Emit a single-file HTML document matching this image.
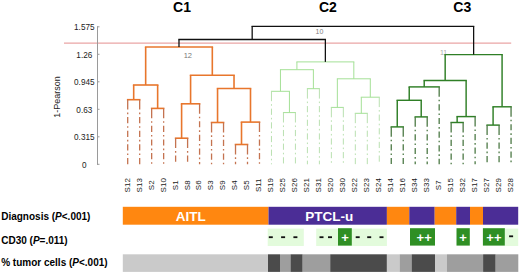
<!DOCTYPE html>
<html><head><meta charset="utf-8"><style>
html,body{margin:0;padding:0;background:#fff;}
body{width:520px;height:273px;overflow:hidden;}
svg{display:block;font-family:"Liberation Sans",sans-serif;}
</style></head><body>
<svg width="520" height="273" viewBox="0 0 520 273">
<g font-size="14" font-weight="bold" fill="#000" text-anchor="middle">
<text x="182" y="12.2">C1</text><text x="327.9" y="12.2">C2</text><text x="462.3" y="12.2">C3</text>
</g>
<line x1="64" y1="43.1" x2="511.2" y2="43.1" stroke="#eaa5a5" stroke-width="1.2"/>
<g fill="#222"><line x1="97.5" y1="26.3" x2="97.5" y2="164.8" stroke="#9a9a9a" stroke-width="1"/>
<line x1="97" y1="26.8" x2="99.5" y2="26.8" stroke="#9a9a9a" stroke-width="1"/>
<text x="84.3" y="30.1" text-anchor="middle" font-size="8.2">1.575</text>
<line x1="97" y1="54.3" x2="99.5" y2="54.3" stroke="#9a9a9a" stroke-width="1"/>
<text x="84.3" y="57.6" text-anchor="middle" font-size="8.2">1.26</text>
<line x1="97" y1="81.8" x2="99.5" y2="81.8" stroke="#9a9a9a" stroke-width="1"/>
<text x="84.3" y="85.1" text-anchor="middle" font-size="8.2">0.945</text>
<line x1="97" y1="109.3" x2="99.5" y2="109.3" stroke="#9a9a9a" stroke-width="1"/>
<text x="84.3" y="112.6" text-anchor="middle" font-size="8.2">0.63</text>
<line x1="97" y1="136.8" x2="99.5" y2="136.8" stroke="#9a9a9a" stroke-width="1"/>
<text x="84.3" y="140.1" text-anchor="middle" font-size="8.2">0.315</text>
<line x1="97" y1="164.3" x2="99.5" y2="164.3" stroke="#9a9a9a" stroke-width="1"/>
<text x="84.3" y="167.6" text-anchor="middle" font-size="8.2">0</text></g>
<text transform="translate(60.2,97) rotate(-90)" text-anchor="middle" font-size="9" fill="#222">1-Pearson</text>
<text x="443.6" y="54.6" font-size="7" fill="#aaa" text-anchor="middle">11</text>
<line x1="145.67" y1="47.0" x2="212.31" y2="47.0" stroke="#e8762c" stroke-width="1.6" stroke-linecap="square"/>
<line x1="145.67" y1="47.0" x2="145.67" y2="85.0" stroke="#e8762c" stroke-width="1.6"/>
<line x1="133.69" y1="85.0" x2="157.65" y2="85.0" stroke="#e8762c" stroke-width="1.6" stroke-linecap="square"/>
<line x1="133.69" y1="85.0" x2="133.69" y2="99.7" stroke="#e8762c" stroke-width="1.6"/>
<line x1="127.70" y1="99.7" x2="139.68" y2="99.7" stroke="#e8762c" stroke-width="1.6" stroke-linecap="square"/>
<path d="M127.70 99.70V109.60M127.70 112.55V114.15M127.70 117.05V123.25M127.70 126.20V127.80M127.70 130.70V136.90M127.70 139.85V141.45M127.70 144.35V150.55M127.70 153.50V155.10M127.70 158.00V164.20" stroke="#c47350" stroke-width="1.3" fill="none"/>
<path d="M139.68 99.70V109.60M139.68 112.55V114.15M139.68 117.05V123.25M139.68 126.20V127.80M139.68 130.70V136.90M139.68 139.85V141.45M139.68 144.35V150.55M139.68 153.50V155.10M139.68 158.00V164.20" stroke="#c47350" stroke-width="1.3" fill="none"/>
<line x1="157.65" y1="85.0" x2="157.65" y2="108.4" stroke="#e8762c" stroke-width="1.6"/>
<line x1="151.66" y1="108.4" x2="163.64" y2="108.4" stroke="#e8762c" stroke-width="1.6" stroke-linecap="square"/>
<path d="M151.66 108.40V118.30M151.66 121.25V122.85M151.66 125.75V131.95M151.66 134.90V136.50M151.66 139.40V145.60M151.66 148.55V150.15M151.66 153.05V159.25M151.66 162.20V163.80" stroke="#c47350" stroke-width="1.3" fill="none"/>
<path d="M163.64 108.40V118.30M163.64 121.25V122.85M163.64 125.75V131.95M163.64 134.90V136.50M163.64 139.40V145.60M163.64 148.55V150.15M163.64 153.05V159.25M163.64 162.20V163.80" stroke="#c47350" stroke-width="1.3" fill="none"/>
<line x1="212.31" y1="47.0" x2="212.31" y2="75.2" stroke="#e8762c" stroke-width="1.6"/>
<line x1="190.59" y1="75.2" x2="234.02" y2="75.2" stroke="#e8762c" stroke-width="1.6" stroke-linecap="square"/>
<line x1="190.59" y1="75.2" x2="190.59" y2="103.8" stroke="#e8762c" stroke-width="1.6"/>
<line x1="181.61" y1="103.8" x2="199.58" y2="103.8" stroke="#e8762c" stroke-width="1.6" stroke-linecap="square"/>
<line x1="181.61" y1="103.8" x2="181.61" y2="138.2" stroke="#e8762c" stroke-width="1.6"/>
<line x1="175.62" y1="138.2" x2="187.60" y2="138.2" stroke="#e8762c" stroke-width="1.6" stroke-linecap="square"/>
<path d="M175.62 138.20V148.10M175.62 151.05V152.65M175.62 155.55V161.75" stroke="#c47350" stroke-width="1.3" fill="none"/>
<path d="M187.60 138.20V148.10M187.60 151.05V152.65M187.60 155.55V161.75" stroke="#c47350" stroke-width="1.3" fill="none"/>
<path d="M199.58 103.80V113.70M199.58 116.65V118.25M199.58 121.15V127.35M199.58 130.30V131.90M199.58 134.80V141.00M199.58 143.95V145.55M199.58 148.45V154.65M199.58 157.60V159.20M199.58 162.10V164.30" stroke="#c47350" stroke-width="1.3" fill="none"/>
<line x1="234.02" y1="75.2" x2="234.02" y2="88.5" stroke="#e8762c" stroke-width="1.6"/>
<line x1="217.55" y1="88.5" x2="250.50" y2="88.5" stroke="#e8762c" stroke-width="1.6" stroke-linecap="square"/>
<line x1="217.55" y1="88.5" x2="217.55" y2="122.5" stroke="#e8762c" stroke-width="1.6"/>
<line x1="211.56" y1="122.5" x2="223.54" y2="122.5" stroke="#e8762c" stroke-width="1.6" stroke-linecap="square"/>
<path d="M211.56 122.50V132.40M211.56 135.35V136.95M211.56 139.85V146.05M211.56 149.00V150.60M211.56 153.50V159.70M211.56 162.65V164.25" stroke="#c47350" stroke-width="1.3" fill="none"/>
<path d="M223.54 122.50V132.40M223.54 135.35V136.95M223.54 139.85V146.05M223.54 149.00V150.60M223.54 153.50V159.70M223.54 162.65V164.25" stroke="#c47350" stroke-width="1.3" fill="none"/>
<line x1="250.50" y1="88.5" x2="250.50" y2="122.1" stroke="#e8762c" stroke-width="1.6"/>
<line x1="241.51" y1="122.1" x2="259.48" y2="122.1" stroke="#e8762c" stroke-width="1.6" stroke-linecap="square"/>
<line x1="241.51" y1="122.1" x2="241.51" y2="144.5" stroke="#e8762c" stroke-width="1.6"/>
<line x1="235.52" y1="144.5" x2="247.50" y2="144.5" stroke="#e8762c" stroke-width="1.6" stroke-linecap="square"/>
<path d="M235.52 144.50V154.40M235.52 157.35V158.95M235.52 161.85V164.30" stroke="#c47350" stroke-width="1.3" fill="none"/>
<path d="M247.50 144.50V154.40M247.50 157.35V158.95M247.50 161.85V164.30" stroke="#c47350" stroke-width="1.3" fill="none"/>
<path d="M259.48 122.10V132.00M259.48 134.95V136.55M259.48 139.45V145.65M259.48 148.60V150.20M259.48 153.10V159.30M259.48 162.25V163.85" stroke="#c47350" stroke-width="1.3" fill="none"/>
<line x1="296.92" y1="61.9" x2="353.82" y2="61.9" stroke="#a4e096" stroke-width="1.0" stroke-linecap="square"/>
<line x1="296.92" y1="61.9" x2="296.92" y2="69.7" stroke="#a4e096" stroke-width="1.0"/>
<line x1="280.44" y1="69.7" x2="313.39" y2="69.7" stroke="#a4e096" stroke-width="1.0" stroke-linecap="square"/>
<line x1="280.44" y1="69.7" x2="280.44" y2="91.3" stroke="#a4e096" stroke-width="1.0"/>
<line x1="271.46" y1="91.3" x2="289.43" y2="91.3" stroke="#a4e096" stroke-width="1.0" stroke-linecap="square"/>
<path d="M271.46 91.30V101.20M271.46 104.15V105.75M271.46 108.65V114.85M271.46 117.80V119.40M271.46 122.30V128.50M271.46 131.45V133.05M271.46 135.95V142.15M271.46 145.10V146.70M271.46 149.60V155.80M271.46 158.75V160.35M271.46 163.25V164.30" stroke="#b9e0b0" stroke-width="1.0" fill="none"/>
<line x1="289.43" y1="91.3" x2="289.43" y2="112.6" stroke="#a4e096" stroke-width="1.0"/>
<line x1="283.44" y1="112.6" x2="295.42" y2="112.6" stroke="#a4e096" stroke-width="1.0" stroke-linecap="square"/>
<path d="M283.44 112.60V122.50M283.44 125.45V127.05M283.44 129.95V136.15M283.44 139.10V140.70M283.44 143.60V149.80M283.44 152.75V154.35M283.44 157.25V163.45" stroke="#b9e0b0" stroke-width="1.0" fill="none"/>
<path d="M295.42 112.60V122.50M295.42 125.45V127.05M295.42 129.95V136.15M295.42 139.10V140.70M295.42 143.60V149.80M295.42 152.75V154.35M295.42 157.25V163.45" stroke="#b9e0b0" stroke-width="1.0" fill="none"/>
<line x1="313.39" y1="69.7" x2="313.39" y2="88.7" stroke="#a4e096" stroke-width="1.0"/>
<line x1="307.40" y1="88.7" x2="319.38" y2="88.7" stroke="#a4e096" stroke-width="1.0" stroke-linecap="square"/>
<path d="M307.40 88.70V98.60M307.40 101.55V103.15M307.40 106.05V112.25M307.40 115.20V116.80M307.40 119.70V125.90M307.40 128.85V130.45M307.40 133.35V139.55M307.40 142.50V144.10M307.40 147.00V153.20M307.40 156.15V157.75M307.40 160.65V164.30" stroke="#b9e0b0" stroke-width="1.0" fill="none"/>
<path d="M319.38 88.70V98.60M319.38 101.55V103.15M319.38 106.05V112.25M319.38 115.20V116.80M319.38 119.70V125.90M319.38 128.85V130.45M319.38 133.35V139.55M319.38 142.50V144.10M319.38 147.00V153.20M319.38 156.15V157.75M319.38 160.65V164.30" stroke="#b9e0b0" stroke-width="1.0" fill="none"/>
<line x1="353.82" y1="61.9" x2="353.82" y2="78.8" stroke="#a4e096" stroke-width="1.0"/>
<line x1="337.35" y1="78.8" x2="370.30" y2="78.8" stroke="#a4e096" stroke-width="1.0" stroke-linecap="square"/>
<line x1="337.35" y1="78.8" x2="337.35" y2="107.4" stroke="#a4e096" stroke-width="1.0"/>
<line x1="331.36" y1="107.4" x2="343.34" y2="107.4" stroke="#a4e096" stroke-width="1.0" stroke-linecap="square"/>
<path d="M331.36 107.40V117.30M331.36 120.25V121.85M331.36 124.75V130.95M331.36 133.90V135.50M331.36 138.40V144.60M331.36 147.55V149.15M331.36 152.05V158.25M331.36 161.20V162.80" stroke="#b9e0b0" stroke-width="1.0" fill="none"/>
<path d="M343.34 107.40V117.30M343.34 120.25V121.85M343.34 124.75V130.95M343.34 133.90V135.50M343.34 138.40V144.60M343.34 147.55V149.15M343.34 152.05V158.25M343.34 161.20V162.80" stroke="#b9e0b0" stroke-width="1.0" fill="none"/>
<line x1="370.30" y1="78.8" x2="370.30" y2="97.2" stroke="#a4e096" stroke-width="1.0"/>
<line x1="361.31" y1="97.2" x2="379.28" y2="97.2" stroke="#a4e096" stroke-width="1.0" stroke-linecap="square"/>
<line x1="361.31" y1="97.2" x2="361.31" y2="113.3" stroke="#a4e096" stroke-width="1.0"/>
<line x1="355.32" y1="113.3" x2="367.30" y2="113.3" stroke="#a4e096" stroke-width="1.0" stroke-linecap="square"/>
<path d="M355.32 113.30V123.20M355.32 126.15V127.75M355.32 130.65V136.85M355.32 139.80V141.40M355.32 144.30V150.50M355.32 153.45V155.05M355.32 157.95V164.15" stroke="#b9e0b0" stroke-width="1.0" fill="none"/>
<path d="M367.30 113.30V123.20M367.30 126.15V127.75M367.30 130.65V136.85M367.30 139.80V141.40M367.30 144.30V150.50M367.30 153.45V155.05M367.30 157.95V164.15" stroke="#b9e0b0" stroke-width="1.0" fill="none"/>
<path d="M379.28 97.20V107.10M379.28 110.05V111.65M379.28 114.55V120.75M379.28 123.70V125.30M379.28 128.20V134.40M379.28 137.35V138.95M379.28 141.85V148.05M379.28 151.00V152.60M379.28 155.50V161.70" stroke="#b9e0b0" stroke-width="1.0" fill="none"/>
<line x1="445.17" y1="54.6" x2="502.08" y2="54.6" stroke="#2f7f26" stroke-width="1.45" stroke-linecap="square"/>
<line x1="445.17" y1="54.6" x2="445.17" y2="80.5" stroke="#2f7f26" stroke-width="1.45"/>
<line x1="424.21" y1="80.5" x2="466.13" y2="80.5" stroke="#2f7f26" stroke-width="1.45" stroke-linecap="square"/>
<line x1="424.21" y1="80.5" x2="424.21" y2="86.9" stroke="#2f7f26" stroke-width="1.45"/>
<line x1="409.23" y1="86.9" x2="439.18" y2="86.9" stroke="#2f7f26" stroke-width="1.45" stroke-linecap="square"/>
<line x1="409.23" y1="86.9" x2="409.23" y2="100.3" stroke="#2f7f26" stroke-width="1.45"/>
<line x1="397.25" y1="100.3" x2="421.21" y2="100.3" stroke="#2f7f26" stroke-width="1.45" stroke-linecap="square"/>
<line x1="397.25" y1="100.3" x2="397.25" y2="126.9" stroke="#2f7f26" stroke-width="1.45"/>
<line x1="391.26" y1="126.9" x2="403.24" y2="126.9" stroke="#2f7f26" stroke-width="1.45" stroke-linecap="square"/>
<path d="M391.26 126.90V136.80M391.26 139.75V141.35M391.26 144.25V150.45M391.26 153.40V155.00M391.26 157.90V164.10" stroke="#4d7a46" stroke-width="1.3" fill="none"/>
<path d="M403.24 126.90V136.80M403.24 139.75V141.35M403.24 144.25V150.45M403.24 153.40V155.00M403.24 157.90V164.10" stroke="#4d7a46" stroke-width="1.3" fill="none"/>
<line x1="421.21" y1="100.3" x2="421.21" y2="116.9" stroke="#2f7f26" stroke-width="1.45"/>
<line x1="415.22" y1="116.9" x2="427.20" y2="116.9" stroke="#2f7f26" stroke-width="1.45" stroke-linecap="square"/>
<path d="M415.22 116.90V126.80M415.22 129.75V131.35M415.22 134.25V140.45M415.22 143.40V145.00M415.22 147.90V154.10M415.22 157.05V158.65M415.22 161.55V164.30" stroke="#4d7a46" stroke-width="1.3" fill="none"/>
<path d="M427.20 116.90V126.80M427.20 129.75V131.35M427.20 134.25V140.45M427.20 143.40V145.00M427.20 147.90V154.10M427.20 157.05V158.65M427.20 161.55V164.30" stroke="#4d7a46" stroke-width="1.3" fill="none"/>
<path d="M439.18 86.90V96.80M439.18 99.75V101.35M439.18 104.25V110.45M439.18 113.40V115.00M439.18 117.90V124.10M439.18 127.05V128.65M439.18 131.55V137.75M439.18 140.70V142.30M439.18 145.20V151.40M439.18 154.35V155.95M439.18 158.85V164.30" stroke="#4d7a46" stroke-width="1.3" fill="none"/>
<line x1="466.13" y1="80.5" x2="466.13" y2="116.6" stroke="#2f7f26" stroke-width="1.45"/>
<line x1="457.15" y1="116.6" x2="475.12" y2="116.6" stroke="#2f7f26" stroke-width="1.45" stroke-linecap="square"/>
<line x1="457.15" y1="116.6" x2="457.15" y2="122.5" stroke="#2f7f26" stroke-width="1.45"/>
<line x1="451.16" y1="122.5" x2="463.14" y2="122.5" stroke="#2f7f26" stroke-width="1.45" stroke-linecap="square"/>
<path d="M451.16 122.50V132.40M451.16 135.35V136.95M451.16 139.85V146.05M451.16 149.00V150.60M451.16 153.50V159.70M451.16 162.65V164.25" stroke="#4d7a46" stroke-width="1.3" fill="none"/>
<path d="M463.14 122.50V132.40M463.14 135.35V136.95M463.14 139.85V146.05M463.14 149.00V150.60M463.14 153.50V159.70M463.14 162.65V164.25" stroke="#4d7a46" stroke-width="1.3" fill="none"/>
<path d="M475.12 116.60V126.50M475.12 129.45V131.05M475.12 133.95V140.15M475.12 143.10V144.70M475.12 147.60V153.80M475.12 156.75V158.35M475.12 161.25V164.30" stroke="#4d7a46" stroke-width="1.3" fill="none"/>
<line x1="502.08" y1="54.6" x2="502.08" y2="106.8" stroke="#2f7f26" stroke-width="1.45"/>
<line x1="493.09" y1="106.8" x2="511.06" y2="106.8" stroke="#2f7f26" stroke-width="1.45" stroke-linecap="square"/>
<line x1="493.09" y1="106.8" x2="493.09" y2="125.1" stroke="#2f7f26" stroke-width="1.45"/>
<line x1="487.10" y1="125.1" x2="499.08" y2="125.1" stroke="#2f7f26" stroke-width="1.45" stroke-linecap="square"/>
<path d="M487.10 125.10V135.00M487.10 137.95V139.55M487.10 142.45V148.65M487.10 151.60V153.20M487.10 156.10V162.30" stroke="#4d7a46" stroke-width="1.3" fill="none"/>
<path d="M499.08 125.10V135.00M499.08 137.95V139.55M499.08 142.45V148.65M499.08 151.60V153.20M499.08 156.10V162.30" stroke="#4d7a46" stroke-width="1.3" fill="none"/>
<path d="M511.06 106.80V116.70M511.06 119.65V121.25M511.06 124.15V130.35M511.06 133.30V134.90M511.06 137.80V144.00M511.06 146.95V148.55M511.06 151.45V157.65M511.06 160.60V162.20" stroke="#4d7a46" stroke-width="1.3" fill="none"/>
<line x1="178.99" y1="39.5" x2="325.37" y2="39.5" stroke="#111" stroke-width="1.3" stroke-linecap="square"/>
<line x1="178.99" y1="39.5" x2="178.99" y2="47" stroke="#111" stroke-width="1.3"/>
<line x1="325.37" y1="39.5" x2="325.37" y2="61.9" stroke="#111" stroke-width="1.3"/>
<line x1="252.18" y1="26.3" x2="473.62" y2="26.3" stroke="#111" stroke-width="1.3" stroke-linecap="square"/>
<line x1="252.18" y1="26.3" x2="252.18" y2="39.5" stroke="#111" stroke-width="1.3"/>
<line x1="473.62" y1="26.3" x2="473.62" y2="54.6" stroke="#111" stroke-width="1.3"/>
<text x="187.8" y="58.4" font-size="7.5" fill="#777" text-anchor="middle">12</text>
<text x="319.4" y="34.3" font-size="7" fill="#808080" text-anchor="middle">10</text>
<g font-size="8" fill="#222"><text x="0" y="0" transform="translate(129.60,185.3) rotate(-90)" text-anchor="middle">S12</text>
<text x="0" y="0" transform="translate(141.58,185.3) rotate(-90)" text-anchor="middle">S13</text>
<text x="0" y="0" transform="translate(153.56,185.3) rotate(-90)" text-anchor="middle">S2</text>
<text x="0" y="0" transform="translate(165.54,185.3) rotate(-90)" text-anchor="middle">S10</text>
<text x="0" y="0" transform="translate(177.52,185.3) rotate(-90)" text-anchor="middle">S1</text>
<text x="0" y="0" transform="translate(189.50,185.3) rotate(-90)" text-anchor="middle">S8</text>
<text x="0" y="0" transform="translate(201.48,185.3) rotate(-90)" text-anchor="middle">S6</text>
<text x="0" y="0" transform="translate(213.46,185.3) rotate(-90)" text-anchor="middle">S3</text>
<text x="0" y="0" transform="translate(225.44,185.3) rotate(-90)" text-anchor="middle">S9</text>
<text x="0" y="0" transform="translate(237.42,185.3) rotate(-90)" text-anchor="middle">S4</text>
<text x="0" y="0" transform="translate(249.40,185.3) rotate(-90)" text-anchor="middle">S5</text>
<text x="0" y="0" transform="translate(261.38,185.3) rotate(-90)" text-anchor="middle">S11</text>
<text x="0" y="0" transform="translate(273.36,185.3) rotate(-90)" text-anchor="middle">S19</text>
<text x="0" y="0" transform="translate(285.34,185.3) rotate(-90)" text-anchor="middle">S25</text>
<text x="0" y="0" transform="translate(297.32,185.3) rotate(-90)" text-anchor="middle">S26</text>
<text x="0" y="0" transform="translate(309.30,185.3) rotate(-90)" text-anchor="middle">S21</text>
<text x="0" y="0" transform="translate(321.28,185.3) rotate(-90)" text-anchor="middle">S31</text>
<text x="0" y="0" transform="translate(333.26,185.3) rotate(-90)" text-anchor="middle">S20</text>
<text x="0" y="0" transform="translate(345.24,185.3) rotate(-90)" text-anchor="middle">S30</text>
<text x="0" y="0" transform="translate(357.22,185.3) rotate(-90)" text-anchor="middle">S22</text>
<text x="0" y="0" transform="translate(369.20,185.3) rotate(-90)" text-anchor="middle">S23</text>
<text x="0" y="0" transform="translate(381.18,185.3) rotate(-90)" text-anchor="middle">S24</text>
<text x="0" y="0" transform="translate(393.16,185.3) rotate(-90)" text-anchor="middle">S14</text>
<text x="0" y="0" transform="translate(405.14,185.3) rotate(-90)" text-anchor="middle">S16</text>
<text x="0" y="0" transform="translate(417.12,185.3) rotate(-90)" text-anchor="middle">S34</text>
<text x="0" y="0" transform="translate(429.10,185.3) rotate(-90)" text-anchor="middle">S33</text>
<text x="0" y="0" transform="translate(441.08,185.3) rotate(-90)" text-anchor="middle">S7</text>
<text x="0" y="0" transform="translate(453.06,185.3) rotate(-90)" text-anchor="middle">S15</text>
<text x="0" y="0" transform="translate(465.04,185.3) rotate(-90)" text-anchor="middle">S32</text>
<text x="0" y="0" transform="translate(477.02,185.3) rotate(-90)" text-anchor="middle">S17</text>
<text x="0" y="0" transform="translate(489.00,185.3) rotate(-90)" text-anchor="middle">S27</text>
<text x="0" y="0" transform="translate(500.98,185.3) rotate(-90)" text-anchor="middle">S29</text>
<text x="0" y="0" transform="translate(512.96,185.3) rotate(-90)" text-anchor="middle">S28</text></g>
<rect x="122.8" y="206.8" width="145.70" height="17.9" fill="#ff8710"/>
<rect x="268.5" y="206.8" width="118.40" height="17.9" fill="#4b2d96"/>
<rect x="386.9" y="206.8" width="22.40" height="17.9" fill="#ff8710"/>
<rect x="409.3" y="206.8" width="25.40" height="17.9" fill="#4b2d96"/>
<rect x="434.7" y="206.8" width="21.50" height="17.9" fill="#ff8710"/>
<rect x="456.2" y="206.8" width="13.80" height="17.9" fill="#4b2d96"/>
<rect x="470.0" y="206.8" width="13.00" height="17.9" fill="#ff8710"/>
<rect x="483.0" y="206.8" width="35.20" height="17.9" fill="#4b2d96"/>
<rect x="122.8" y="254.3" width="145.20" height="17.6" fill="#cacaca"/>
<rect x="268.0" y="254.3" width="12.00" height="17.6" fill="#4b4b4b"/>
<rect x="280.0" y="254.3" width="10.50" height="17.6" fill="#9e9e9e"/>
<rect x="290.5" y="254.3" width="12.20" height="17.6" fill="#4b4b4b"/>
<rect x="302.7" y="254.3" width="27.50" height="17.6" fill="#9e9e9e"/>
<rect x="330.2" y="254.3" width="56.70" height="17.6" fill="#4b4b4b"/>
<rect x="386.9" y="254.3" width="12.70" height="17.6" fill="#cacaca"/>
<rect x="399.6" y="254.3" width="12.00" height="17.6" fill="#9e9e9e"/>
<rect x="411.6" y="254.3" width="23.40" height="17.6" fill="#4b4b4b"/>
<rect x="435.0" y="254.3" width="11.90" height="17.6" fill="#cacaca"/>
<rect x="446.9" y="254.3" width="36.20" height="17.6" fill="#9e9e9e"/>
<rect x="483.1" y="254.3" width="12.60" height="17.6" fill="#4b4b4b"/>
<rect x="495.7" y="254.3" width="22.60" height="17.6" fill="#9e9e9e"/>
<rect x="267.7" y="228.6" width="36.10" height="17.4" fill="#e3fbdc"/>
<rect x="316.2" y="228.6" width="70.70" height="17.4" fill="#e3fbdc"/>
<rect x="338.0" y="228.2" width="13.80" height="17.4" fill="#2f8f24"/>
<rect x="410.0" y="228.2" width="25.00" height="17.4" fill="#2f8f24"/>
<rect x="456.5" y="228.2" width="13.30" height="17.4" fill="#2f8f24"/>
<rect x="482.9" y="228.2" width="22.00" height="17.4" fill="#2f8f24"/>
<rect x="504.9" y="228.6" width="13.30" height="17.4" fill="#e3fbdc"/>
<rect x="268.8" y="236.3" width="4" height="1.8" fill="#111"/>
<rect x="281.1" y="236.3" width="4" height="1.8" fill="#111"/>
<rect x="293.4" y="236.3" width="4" height="1.8" fill="#111"/>
<rect x="319.5" y="236.3" width="4" height="1.8" fill="#111"/>
<rect x="328.0" y="236.3" width="4" height="1.8" fill="#111"/>
<rect x="355.7" y="236.3" width="4" height="1.8" fill="#111"/>
<rect x="367.2" y="236.3" width="4" height="1.8" fill="#111"/>
<rect x="379.5" y="236.3" width="4" height="1.8" fill="#111"/>
<rect x="509.1" y="235.4" width="4" height="1.8" fill="#111"/>
<text x="345.0" y="241.8" text-anchor="middle" font-size="13" font-weight="bold" fill="#fff">+</text>
<text x="424.2" y="241.8" text-anchor="middle" font-size="13" font-weight="bold" fill="#fff">++</text>
<text x="463.1" y="241.8" text-anchor="middle" font-size="13" font-weight="bold" fill="#fff">+</text>
<text x="493.9" y="241.8" text-anchor="middle" font-size="13" font-weight="bold" fill="#fff">++</text>
<g font-size="10" font-weight="bold" fill="#000">
<text x="1.2" y="220">Diagnosis (<tspan font-style="italic">P</tspan>&lt;.001)</text>
<text x="1.2" y="244.3">CD30 (<tspan font-style="italic">P</tspan>=.011)</text>
<text x="1.2" y="266">% tumor cells (<tspan font-style="italic">P</tspan>&lt;.001)</text>
</g>
<g font-size="13.5" font-weight="bold" fill="#fff" text-anchor="middle">
<text x="190.8" y="220.6">AITL</text><text x="329.2" y="220.6">PTCL-u</text>
</g>
</svg>
</body></html>
